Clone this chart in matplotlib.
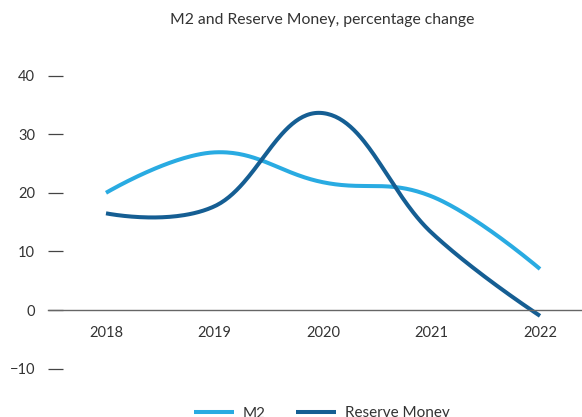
import numpy as np
import matplotlib
matplotlib.use("Agg")
import matplotlib.pyplot as plt

years = ["2018", "2019", "2020", "2021", "2022"]
m2 = [20.0, 26.9, 21.8, 19.4, 7.0]
reserve_money = [16.5, 17.7, 33.6, 13.2, -1.0]
yticks = [-10, 0, 10, 20, 30, 40]
title = "M2 and Reserve Money, percentage change"
series_names = ["M2", "Reserve Money"]

C_LIGHT = "#29ABE2"
C_DARK = "#155E93"


def smooth_spline(y, n=60, smoothing=1.5):
    """Bezier spline through the points (control points from neighbours)."""
    y = np.asarray(y, float)
    k = len(y)
    x = np.arange(k, dtype=float)
    denom = smoothing + 1
    lc = [(x[i], y[i]) for i in range(k)]
    rc = [(x[i], y[i]) for i in range(k)]
    for i in range(1, k - 1):
        lcx = (smoothing * x[i] + x[i - 1]) / denom
        lcy = (smoothing * y[i] + y[i - 1]) / denom
        rcx = (smoothing * x[i] + x[i + 1]) / denom
        rcy = (smoothing * y[i] + y[i + 1]) / denom
        corr = (rcy - lcy) * (rcx - x[i]) / (rcx - lcx) + y[i] - rcy
        lc[i] = (lcx, lcy + corr)
        rc[i] = (rcx, rcy + corr)
    xs, ys = [], []
    for i in range(k - 1):
        t = np.linspace(0, 1, n, endpoint=(i == k - 2))[:, None]
        P0 = np.array([x[i], y[i]])
        P1 = np.array(rc[i])
        P2 = np.array(lc[i + 1])
        P3 = np.array([x[i + 1], y[i + 1]])
        B = (1 - t) ** 3 * P0 + 3 * (1 - t) ** 2 * t * P1 + 3 * (1 - t) * t ** 2 * P2 + t ** 3 * P3
        xs.append(B[:, 0])
        ys.append(B[:, 1])
    return np.concatenate(xs), np.concatenate(ys)


plt.rcParams["font.family"] = ["Lato", "DejaVu Sans"]

W, H = 582, 417
fig = plt.figure(figsize=(W / 100, H / 100), dpi=100)

left_px, right_px = 48, 582
top_px, bot_px = 60, 390
ax = fig.add_axes([left_px / W, 1 - bot_px / H, (right_px - left_px) / W, (bot_px - top_px) / H])

px_per_unit_x = 108.5
x0_px = 106
ax.set_xlim((left_px - x0_px) / px_per_unit_x, (right_px - x0_px) / px_per_unit_x)
zero_px = 310
px_per_unit_y = 5.86
ax.set_ylim(-(bot_px - zero_px) / px_per_unit_y, (zero_px - top_px) / px_per_unit_y)

handles = []
for vals, col, name in [(m2, C_LIGHT, series_names[0]), (reserve_money, C_DARK, series_names[1])]:
    xs, ys = smooth_spline(vals)
    h, = ax.plot(xs, ys, color=col, lw=2.9, label=name, solid_capstyle="butt")
    handles.append(h)

for s in ["top", "right", "left"]:
    ax.spines[s].set_visible(False)
ax.spines["bottom"].set_position(("data", 0))
ax.spines["bottom"].set_color("#666666")
ax.spines["bottom"].set_linewidth(1.0)

ax.set_yticks(yticks)
ax.set_yticklabels([("\u2212" + str(-v)) if v < 0 else str(v) for v in yticks])
ax.tick_params(axis="y", direction="in", length=15 * 0.72, width=0.9, color="#444444",
               pad=13 * 0.72, labelsize=10.5, labelcolor="#333333")
ax.set_xticks(range(len(years)))
ax.set_xticklabels(years)
ax.tick_params(axis="x", length=0, pad=16 * 0.72, labelsize=10.5, labelcolor="#333333")

fig.text(322 / W, 1 - 20 / H, title, ha="center", va="center", fontsize=11.3, color="#333333")

fig.legend(handles=handles, loc="center", bbox_to_anchor=(322 / W, 3.5 / H), ncol=2, frameon=False,
           fontsize=11, handlelength=2.6, handletextpad=0.6, columnspacing=2.0,
           labelcolor="#333333")

fig.savefig("out.png", dpi=100)
